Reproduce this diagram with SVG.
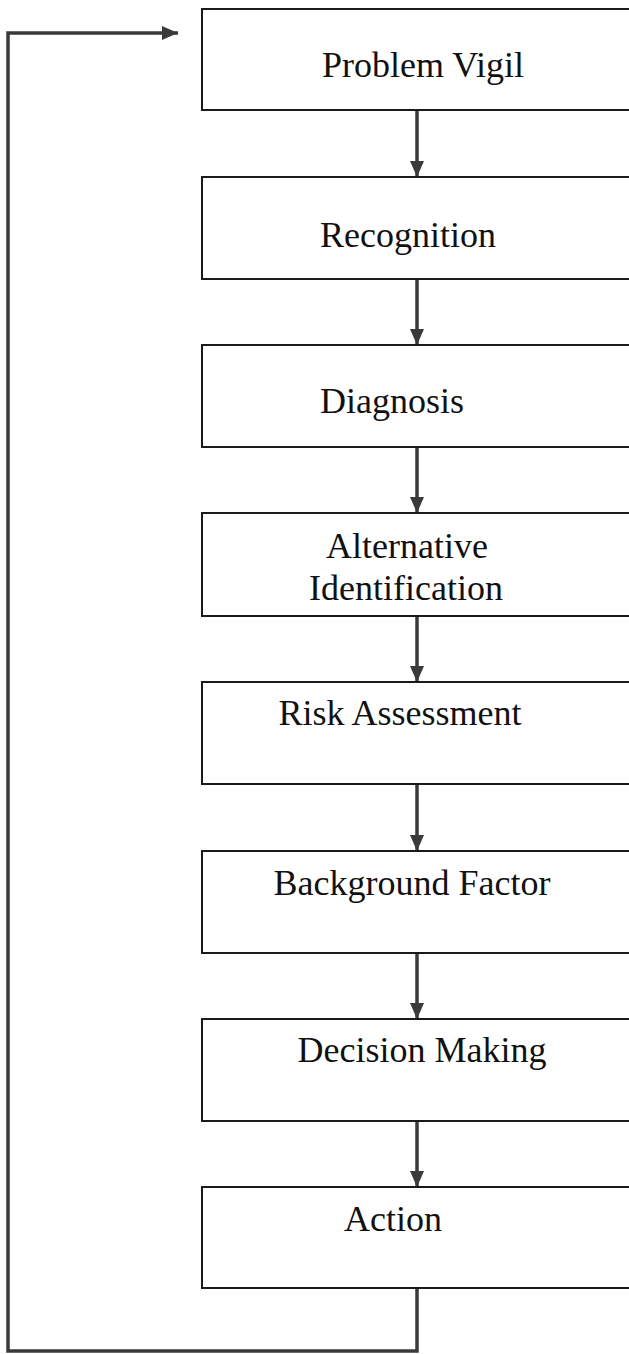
<svg xmlns="http://www.w3.org/2000/svg" width="629" height="1354" viewBox="0 0 629 1354">
<defs>
<style>
.box{fill:#fff;stroke:#1a1a1a;stroke-width:2}
.lbl{font-family:"Liberation Serif","Times New Roman",serif;font-size:36px;fill:#111;text-anchor:middle}
.conn{fill:none;stroke:#3a3a3a;stroke-width:3.5}
</style>
<marker id="ah" viewBox="0 0 16 16" refX="16" refY="8" markerWidth="16" markerHeight="16" markerUnits="userSpaceOnUse" orient="auto">
<path d="M0,1 L16,8 L0,15 z" fill="#3a3a3a"/>
</marker>
</defs>
<rect width="629" height="1354" fill="#fff"/>
<g id="connectors">
<line class="conn" x1="417" y1="110" x2="417" y2="177" marker-end="url(#ah)"/>
<line class="conn" x1="417" y1="279" x2="417" y2="345" marker-end="url(#ah)"/>
<line class="conn" x1="417" y1="447" x2="417" y2="513" marker-end="url(#ah)"/>
<line class="conn" x1="417" y1="616" x2="417" y2="682" marker-end="url(#ah)"/>
<line class="conn" x1="417" y1="784" x2="417" y2="851" marker-end="url(#ah)"/>
<line class="conn" x1="417" y1="953" x2="417" y2="1019" marker-end="url(#ah)"/>
<line class="conn" x1="417" y1="1121" x2="417" y2="1187" marker-end="url(#ah)"/>
<polyline class="conn" points="417,1288 417,1351 8,1351 8,33 178,33" marker-end="url(#ah)"/>
</g>
<g id="n1"><rect class="box" x="202" y="9" width="440" height="101"/><text class="lbl" x="423" y="77">Problem Vigil</text></g>
<g id="n2"><rect class="box" x="202" y="177" width="440" height="102"/><text class="lbl" x="408" y="247">Recognition</text></g>
<g id="n3"><rect class="box" x="202" y="345" width="440" height="102"/><text class="lbl" x="392" y="413">Diagnosis</text></g>
<g id="n4"><rect class="box" x="202" y="513" width="440" height="103"/><text class="lbl" x="407" y="558">Alternative</text><text class="lbl" x="406" y="600">Identification</text></g>
<g id="n5"><rect class="box" x="202" y="682" width="440" height="102"/><text class="lbl" x="400" y="725">Risk Assessment</text></g>
<g id="n6"><rect class="box" x="202" y="851" width="440" height="102"/><text class="lbl" x="412" y="895">Background Factor</text></g>
<g id="n7"><rect class="box" x="202" y="1019" width="440" height="102"/><text class="lbl" x="422" y="1062">Decision Making</text></g>
<g id="n8"><rect class="box" x="202" y="1187" width="440" height="101"/><text class="lbl" x="393" y="1231">Action</text></g>
</svg>
